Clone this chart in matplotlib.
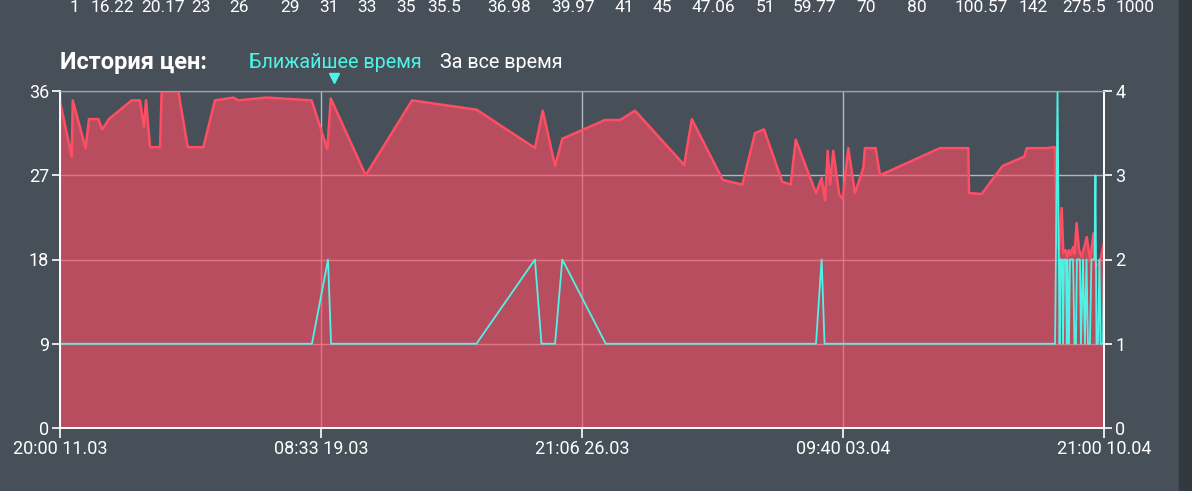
import numpy as np
import matplotlib
matplotlib.use("Agg")
import matplotlib.pyplot as plt
from matplotlib.lines import Line2D
from matplotlib.patches import Rectangle

plt.rcParams['font.family'] = ['Roboto', 'DejaVu Sans']

# --- данные ---------------------------------------------------------------
# время в часах от 20:00 11.03 (до 21:00 10.04 = 721 ч)
price_hours = [0.0, 8.1, 8.8, 17.7, 20.0, 26.5, 29.2, 33.8, 49.5, 55.2, 58.0, 59.4,
               62.2, 69.1, 70.2, 81.7, 88.2, 99.0, 107.0, 119.7, 123.1, 142.7, 173.8,
               184.6, 187.0, 211.1, 243.1, 287.8, 328.0, 333.4, 341.9, 346.9, 376.4,
               386.7, 397.1, 431.1, 436.3, 457.7, 471.2, 480.0, 486.2, 498.8, 504.6,
               508.1, 522.1, 526.0, 528.3, 530.2, 531.8, 534.0, 538.2, 540.5, 544.4,
               549.0, 554.8, 555.9, 563.3, 566.3, 607.7, 627.3, 627.8, 636.5, 651.0,
               666.0, 667.6, 681.4, 687.2, 688.5, 689.9, 691.8, 692.9, 694.5, 695.6,
               696.8, 698.0, 699.6, 700.6, 702.1, 703.8, 705.6, 709.1, 711.4, 713.7,
               715.5, 718.3, 721.0]
price_values = [34.9, 29.0, 35.0, 29.9, 33.0, 33.0, 31.9, 33.0, 35.0, 35.0, 32.2, 35.0,
                30.0, 30.0, 36.0, 36.0, 30.0, 30.0, 35.0, 35.3, 35.0, 35.3, 35.0,
                29.8, 35.2, 27.0, 35.0, 34.0, 29.9, 33.9, 28.0, 30.9, 32.9,
                32.9, 33.9, 28.1, 33.0, 26.5, 26.0, 31.5, 31.9, 26.3, 26.0,
                30.8, 25.1, 26.7, 24.3, 29.6, 26.0, 29.6, 24.9, 24.5, 29.9,
                25.1, 27.8, 29.9, 29.9, 27.0, 29.9, 29.9, 25.1, 25.0, 28.0,
                29.0, 29.9, 29.9, 30.0, 20.0, 19.0, 23.5, 18.7, 19.0, 18.3,
                19.0, 18.5, 19.3, 18.6, 21.9, 19.0, 18.3, 20.4, 17.9, 20.8,
                17.2, 17.8, 19.8]

count_hours = [0.0, 174.0, 185.1, 187.2, 287.6, 328.0, 332.5, 341.9, 346.9, 376.9,
               522.1, 526.0, 528.0, 687.2, 688.9, 690.3, 691.0, 692.0, 692.7, 693.4,
               694.7, 695.3, 695.8, 696.8, 697.5, 699.6, 700.6, 701.6, 702.3, 704.4,
               705.1, 706.5, 707.8, 708.9, 709.9, 711.3, 712.3, 714.4, 715.1, 715.8,
               716.8, 717.9, 718.6, 720.3, 721.0]
count_values = [1, 1, 2, 1, 1, 2, 1, 1, 2, 1,
                1, 2, 1, 1, 4, 1, 2, 2, 1, 2,
                2, 1, 2, 1, 2, 2, 1, 1, 2, 2,
                1, 2, 1, 2, 1, 1, 2, 2, 3, 1,
                1, 2, 1, 1, 2]

x_tick_hours = [0, 180.25, 360.5, 540.75, 721]
x_tick_labels = ['20:00 11.03', '08:33 19.03', '21:06 26.03', '09:40 03.04', '21:00 10.04']
left_ticks = [0, 9, 18, 27, 36]
right_ticks = [0, 1, 2, 3, 4]

price_levels = ['1', '16.22', '20.17', '23', '26', '29', '31', '33', '35', '35.5', '36.98',
                '39.97', '41', '45', '47.06', '51', '59.77', '70', '80', '100.57', '142',
                '275.5', '1000']
price_level_px = [74, 112, 163, 201, 239, 290, 329, 367, 406, 444, 509,
                  573, 624, 662, 713, 765, 815, 866, 917, 981, 1033,
                  1084, 1135]

# --- оформление -----------------------------------------------------------
BG = '#474f59'
RED = '#ff4d64'
CYAN = '#4ff3e6'
W, H = 1192, 491

fig = plt.figure(figsize=(W / 100, H / 100), dpi=100, facecolor=BG)
fig.patches.append(Rectangle((1179 / W, 0), 1, 1, transform=fig.transFigure,
                             color='#33373e', zorder=0))

ax = fig.add_axes([60 / W, (H - 428) / H, (1104 - 60) / W, (428 - 91) / H])
ax.set_facecolor(BG)
ax.set_axisbelow(True)
ax.grid(True, color='#b2b6bc', lw=1)

ax.fill_between(price_hours, price_values, 0, color=RED, alpha=0.62, lw=0, zorder=2)
ax.plot(price_hours, price_values, color=RED, lw=1.8, zorder=3)

ax.set_xlim(0, 721)
ax.set_ylim(0, 36)
ax.set_xticks(x_tick_hours)
ax.set_xticklabels(x_tick_labels)
ax.set_yticks(left_ticks)

ax2 = ax.twinx()
ax2.plot(count_hours, count_values, color=CYAN, lw=1.3)
ax2.set_ylim(0, 4)
ax2.set_yticks(right_ticks)

for a in (ax, ax2):
    for side in ('left', 'right', 'bottom'):
        a.spines[side].set_color('white')
        a.spines[side].set_linewidth(1.2)
    a.spines['top'].set_color('#9ea3aa')
    a.tick_params(colors='white', labelsize=13, width=1.2, length=6, pad=2)
ax.tick_params(axis='x', length=7, pad=2)

# --- заголовок ------------------------------------------------------------
fig.text(60 / W, 1 - 62 / H, 'История цен:', color='white', fontsize=17,
         fontweight='bold', va='center', ha='left')
fig.text(249 / W, 1 - 62 / H, 'Ближайшее время', color=CYAN, fontsize=14.2,
         va='center', ha='left')
fig.text(440 / W, 1 - 62 / H, 'За все время', color='white', fontsize=14.2,
         va='center', ha='left')
fig.add_artist(Line2D([334 / W], [1 - 78 / H], transform=fig.transFigure,
                      marker='v', color=CYAN, markersize=7, lw=0))

for lbl, px in zip(price_levels, price_level_px):
    fig.text(px / W, 1 - 12 / H, lbl, color='white', fontsize=12.5,
             ha='center', va='baseline')

fig.savefig('out.png', dpi=100, facecolor=BG)
